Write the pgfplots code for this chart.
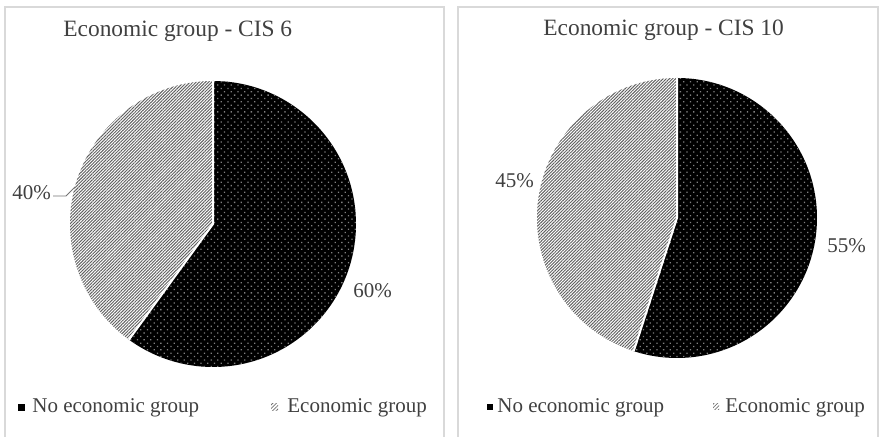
\documentclass[border=0pt]{standalone}
\usepackage{fontspec}
\setmainfont{Liberation Serif}
\usepackage{pgfplots}
\pgfplotsset{compat=1.18}
\usepackage{pgfplotstable}
\usetikzlibrary{patterns,patterns.meta}
\definecolor{txt}{HTML}{404040}
\definecolor{frame}{HTML}{D9D9D9}

\pgfplotstableread{
group share
No 60
Eco 40
}\cisSix
\pgfplotstableread{
group share
No 55
Eco 45
}\cisTen

% #1 table, #2 cx (px), #3 cy (px), #4 radius (px)
\newcommand{\piechart}[4]{%
  \pgfplotstablegetelem{0}{share}\of#1\let\va\pgfplotsretval
  \pgfmathsetmacro\endang{90-3.6*\va}
  \pgfmathsetmacro\endangB{\endang+360}
  \pgfmathsetmacro\Rpt{0.5*#4}
  \pgfmathsetmacro\Wpt{#4}
  \pgfmathsetmacro\cxpt{0.5*#2}
  \pgfmathsetmacro\cypt{-0.5*#3}
  \begin{axis}[at={(\cxpt pt,\cypt pt)}, anchor=center, hide axis, scale only axis,
      width=\Wpt pt, height=\Wpt pt, xmin=-1, xmax=1, ymin=-1, ymax=1,
      clip=false]
    \addplot[draw=none, forget plot] coordinates {(0,0)};
    \fill[black] (axis cs:0,0) -- (axis cs:0,1) arc[start angle=90, end angle=\endang, radius=\Rpt pt] -- cycle;
    \fill[pattern={Dots[radius=0.45pt, distance=2.37pt, angle=45]}, pattern color=black!50] (axis cs:0,0) -- (axis cs:0,1) arc[start angle=90, end angle=\endang, radius=\Rpt pt] -- cycle;
    \fill[white] (axis cs:0,0) -- (axis cs:0,1) arc[start angle=90, end angle=\endangB, radius=\Rpt pt] -- cycle;
    \fill[pattern={Lines[angle=45, distance=1.1pt, line width=0.48pt]}, pattern color=black!62] (axis cs:0,0) -- (axis cs:0,1) arc[start angle=90, end angle=\endangB, radius=\Rpt pt] -- cycle;
    \draw[white, line width=1pt] (axis cs:0,1) -- (axis cs:0,0) -- (axis cs:{cos(\endang)},{sin(\endang)});
  \end{axis}}

\begin{document}
\begin{tikzpicture}[x=0.5pt,y=-0.5pt]
\useasboundingbox (0,0) rectangle (880,437);
\draw[frame, line width=0.6pt] (5,445) -- (5,7) -- (444,7) -- (444,445);
\draw[frame, line width=0.6pt] (458,445) -- (458,7) -- (878,7) -- (878,445);

\piechart{\cisSix}{213}{224}{143}
\piechart{\cisTen}{677}{218}{140}

\begin{scope}[every node/.style={inner sep=0pt, text=txt, anchor=base west}]
\node[font=\fontsize{11.7}{14}\selectfont] at (63,37) {Economic group - CIS 6};
\node[font=\fontsize{11.7}{14}\selectfont] at (543,36) {Economic group - CIS 10};

\node[font=\fontsize{10.5}{12}\selectfont] at (12,200) {40\%};
\node[font=\fontsize{10.5}{12}\selectfont] at (353,298) {60\%};
\node[font=\fontsize{10.5}{12}\selectfont] at (495,188) {45\%};
\node[font=\fontsize{10.5}{12}\selectfont] at (827,253) {55\%};

\node[font=\fontsize{10.5}{12}\selectfont] at (32,413) {No economic group};
\node[font=\fontsize{10.5}{12}\selectfont] at (287,413) {Economic group};
\node[font=\fontsize{10.5}{12}\selectfont] at (497,413) {No economic group};
\node[font=\fontsize{10.5}{12}\selectfont] at (725,413) {Economic group};
\end{scope}

\draw[black!55, line width=0.4pt] (53,196) -- (66,196) -- (75,187);

\fill[black] (18,404) rectangle (25,411);
\fill[pattern={Lines[angle=45, distance=1.3pt, line width=0.4pt]}, pattern color=black!55] (271,404) rectangle (278,411);
\fill[black] (487,404) rectangle (493,410);
\fill[pattern={Lines[angle=45, distance=1.3pt, line width=0.4pt]}, pattern color=black!55] (713,404) rectangle (719,410);
\end{tikzpicture}
\end{document}
